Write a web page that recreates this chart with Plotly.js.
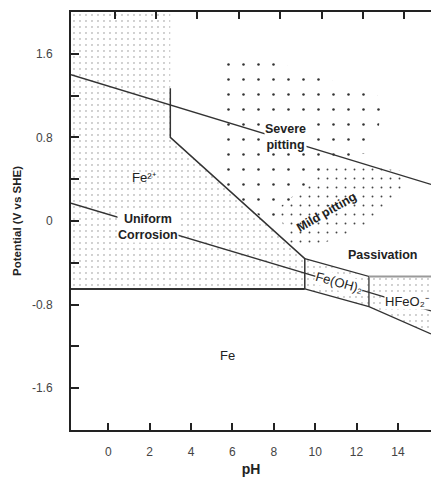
<!DOCTYPE html>
<html>
<head>
<meta charset="utf-8">
<script src="https://cdn.plot.ly/plotly-3.0.1.min.js"></script>
<style>html,body{margin:0;padding:0;background:#fff;}#chart{width:431px;height:482px;}</style>
</head>
<body>
<div id="chart"></div>
<script>
// ---- data (pH, potential V vs SHE) ----
const xTicks = [0, 2, 4, 6, 8, 10, 12, 14];
const yTickVals = [-1.6, -0.8, 0, 0.8, 1.6];
const yTickText = ['-1.6', '-0.8', '0', '0.8', '1.6'];

// boundary lines
const o2LinePH = [-1.8, 15.6];
const o2LineE = [1.40, 0.35];
const h2LinePH = [-1.8, 15.6];
const h2LineE = [0.17, -0.86];
const feLinePH = [-1.8, 9.5];
const feLineE = [-0.65, -0.65];
const fe2BoundPH = [3, 3, 9.5, 9.5];
const fe2BoundE = [1.27, 0.80, -0.36, -0.65];
const feoh2TopPH = [9.5, 12.6, 12.6];
const feoh2TopE = [-0.36, -0.53, -0.82];
const feoh2BotPH = [9.5, 12.6, 15.6];
const feoh2BotE = [-0.65, -0.82, -1.08];
const passPH = [12.6, 15.6];
const passE = [-0.53, -0.53];

// regions
const fe2RegionPH = [-1.8, 3, 3, 9.5, 9.5, -1.8];
const fe2RegionE = [2.0, 2.0, 0.80, -0.36, -0.65, -0.65];
const feoh2RegionPH = [9.5, 12.6, 12.6, 9.5];
const feoh2RegionE = [-0.36, -0.53, -0.82, -0.65];
const hfeo2RegionPH = [12.6, 15.6, 15.6, 12.6];
const hfeo2RegionE = [-0.53, -0.53, -1.08, -0.82];
const severeRegionPH = [5.7, 6.6, 13.3, 12.9, 10.8, 8.0, 5.7];
const severeRegionE = [1.60, 1.62, 1.18, 0.68, 0.55, -0.07, 0.32];
const mildRegionPH = [10.8, 14.1, 14.3, 12.6, 10.2, 8.76, 8.2, 9.6];
const mildRegionE = [0.56, 0.48, 0.30, -0.03, -0.23, -0.23, 0.12, 0.35];

const fineDots = {shape: '.', size: 6, solidity: 0.035, fgcolor: '#7a7a7a', bgcolor: 'rgba(255,255,255,0)'};
function region(px, py, pat) {
  return {x: px, y: py, type: 'scatter', mode: 'lines', fill: 'toself',
    fillcolor: 'rgba(255,255,255,0)', line: {width: 0, color: 'rgba(0,0,0,0)'},
    fillpattern: pat, hoverinfo: 'skip', showlegend: false};
}
function bline(px, py, color, width) {
  return {x: px, y: py, type: 'scatter', mode: 'lines', line: {color: color, width: width},
    hoverinfo: 'skip', showlegend: false};
}

const traces = [
  region(fe2RegionPH, fe2RegionE, fineDots),
  region(feoh2RegionPH, feoh2RegionE, fineDots),
  region(hfeo2RegionPH, hfeo2RegionE, fineDots),
  region(severeRegionPH, severeRegionE, {shape: '.', size: 15, solidity: 0.022, fgcolor: '#333', bgcolor: 'rgba(255,255,255,0)'}),
  region(mildRegionPH, mildRegionE, {shape: '.', size: 9, solidity: 0.035, fgcolor: '#444', bgcolor: 'rgba(255,255,255,0)'}),
  bline(o2LinePH, o2LineE, '#333', 1.3),
  bline(h2LinePH, h2LineE, '#333', 1.3),
  bline(feLinePH, feLineE, '#333', 2),
  bline(fe2BoundPH, fe2BoundE, '#333', 1.5),
  bline(feoh2TopPH, feoh2TopE, '#333', 1.3),
  bline(feoh2BotPH, feoh2BotE, '#333', 1.3),
  bline(passPH, passE, '#9a9a9a', 2),
  {x: [0], y: [0], xaxis: 'x2', yaxis: 'y', type: 'scatter', mode: 'markers',
   marker: {opacity: 0}, hoverinfo: 'skip', showlegend: false}
];

const F = 'Liberation Sans, Arial, sans-serif';
function lab(text, x, y, size, bold, angle, bg) {
  const t = bold ? text.split('<br>').map(s => '<b>' + s + '</b>').join('<br>') : text;
  return {x: x, y: y, xref: 'x', yref: 'y', text: t,
    showarrow: false, textangle: angle || 0, font: {family: F, size: size, color: '#222'},
    bgcolor: bg === false ? 'rgba(0,0,0,0)' : '#fff', borderpad: 0};
}

const layout = {
  width: 431, height: 482,
  margin: {l: 71, r: 0, t: 12, b: 52},
  paper_bgcolor: '#fff', plot_bgcolor: '#fff',
  showlegend: false,
  xaxis: {
    range: [-1.8, 15.6], tickmode: 'array', tickvals: xTicks, ticktext: xTicks.map(String),
    ticks: 'inside', ticklen: 7, tickwidth: 2, tickcolor: '#222',
    showline: true, linewidth: 2, linecolor: '#222', showgrid: false, zeroline: false,
    ticklabelstandoff: 10,
    tickfont: {family: F, size: 12, color: '#444'},
    title: {text: '<b>pH</b>', font: {family: F, size: 14, color: '#222'}, standoff: 6}
  },
  xaxis2: {
    overlaying: 'x', side: 'top', anchor: 'y',
    range: [-2.11, 15.29], tickmode: 'array', tickvals: xTicks, showticklabels: false,
    ticks: 'inside', ticklen: 7, tickwidth: 2, tickcolor: '#222',
    showline: true, linewidth: 2, linecolor: '#222', showgrid: false, zeroline: false
  },
  yaxis: {
    range: [-2.0, 2.0], tickmode: 'array', tickvals: yTickVals, ticktext: yTickText,
    ticks: 'inside', ticklen: 8, tickwidth: 2, tickcolor: '#222',
    minor: {tickmode: 'linear', tick0: 0, dtick: 0.4, ticks: 'inside', ticklen: 8, tickwidth: 2, tickcolor: '#222', showgrid: false},
    showline: true, linewidth: 2, linecolor: '#222', showgrid: false, zeroline: false,
    ticklabelstandoff: 14,
    tickfont: {family: F, size: 12, color: '#444'},
    title: {text: '<b>Potential (V vs SHE)</b>', font: {family: F, size: 11.5, color: '#222'}, standoff: 8}
  },
  annotations: [
    lab('Fe²⁺', 1.75, 0.42, 13, false, 0, false),
    lab('Uniform<br>Corrosion', 1.92, -0.06, 12.5, true),
    lab('Severe<br>pitting', 8.55, 0.80, 12.5, true),
    lab('Mild pitting', 10.55, 0.09, 12.5, true, -30, false),
    lab('Passivation', 13.26, -0.33, 12.5, true, 0, false),
    lab('Fe(OH)₂', 11.15, -0.59, 13, false, 15.5),
    lab('HFeO₂⁻', 14.45, -0.77, 13, false),
    lab('Fe', 5.74, -1.29, 13, false, 0, false)
  ]
};

Plotly.newPlot('chart', traces, layout, {staticPlot: true, displayModeBar: false});
</script>
</body>
</html>
